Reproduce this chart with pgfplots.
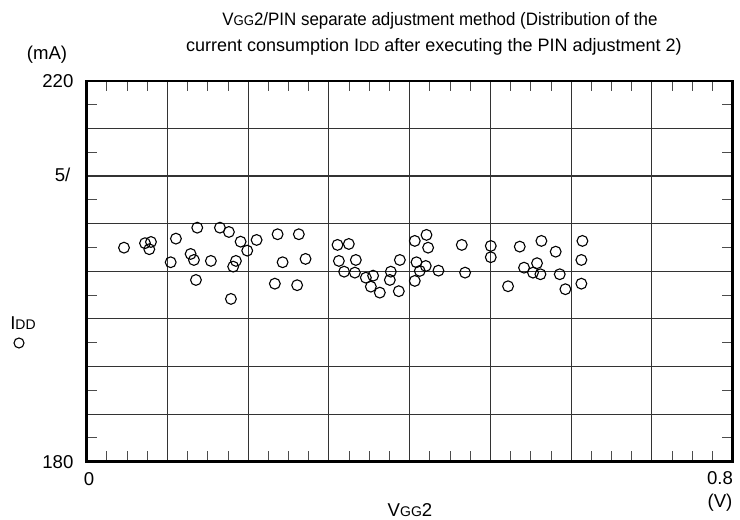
\documentclass[border=0pt]{standalone}
\usepackage{graphicx}
\usepackage{pgfplots}
\pgfplotsset{compat=1.18}
\usepackage{fontspec}
\setmainfont{Liberation Sans}
\newcommand{\sm}[1]{{\fontsize{7}{8}\selectfont #1}}
\begin{document}
\fontsize{9.3}{11}\selectfont
\begin{tikzpicture}
\path[use as bounding box] (-43.35pt,-29.15pt) rectangle (326.65pt,230.85pt);
\begin{axis}[
  at={(0pt,0pt)}, anchor=south west,
  scale only axis, width=323pt, height=190.5pt,
  xmin=0, xmax=0.8, ymin=180, ymax=220,
  xtick={0,0.1,0.2,0.3,0.4,0.5,0.6,0.7,0.8},
  ytick={180,185,190,195,200,205,210,215,220},
  xticklabels={}, yticklabels={},
  minor x tick num=3, minor y tick num=1,
  tick align=inside,
  major tick length=0pt, minor tick length=5.3pt,
  grid=major,
  major grid style={line width=0.55pt, black!80},
  axis line style={line width=1.2pt},
  minor tick style={line width=0.5pt, black!70},
  clip=false,
]
\addplot[only marks, mark=o, mark size=2.7pt, mark options={line width=0.55pt, black}] coordinates {
(0.0462,202.47) (0.0722,202.94) (0.0796,203.07) (0.0775,202.31)
(0.1105,203.42) (0.1369,204.57) (0.1650,204.57) (0.1761,204.12)
(0.1287,201.81) (0.1328,201.18) (0.1040,200.94) (0.1538,201.08)
(0.1353,199.08) (0.1786,197.09) (0.1848,201.08) (0.1814,200.48)
(0.1906,203.10) (0.1988,202.16) (0.2104,203.28) (0.2364,203.88)
(0.2627,203.88) (0.2426,200.94) (0.2710,201.29) (0.2330,198.69)
(0.2606,198.53) (0.3106,202.76) (0.3246,202.86) (0.3123,201.08)
(0.3188,199.95) (0.3333,201.18) (0.3321,199.85) (0.3457,199.32)
(0.3547,199.53) (0.3519,198.38) (0.3630,197.75) (0.3754,199.08)
(0.3766,199.95) (0.3878,201.18) (0.3865,197.90) (0.4063,203.18)
(0.4208,203.81) (0.4228,202.47) (0.4084,200.94) (0.4199,200.55)
(0.4125,200.03) (0.4063,198.98) (0.4356,200.06) (0.4645,202.76)
(0.4686,199.85) (0.5004,202.65) (0.5004,201.47) (0.5363,202.58)
(0.5631,203.18) (0.5808,202.05) (0.5577,200.84) (0.5416,200.37)
(0.5527,199.85) (0.5619,199.68) (0.5858,199.68) (0.5218,198.42)
(0.5928,198.11) (0.6139,203.18) (0.6126,201.18) (0.6126,198.69)
};
\end{axis}
\node[anchor=center,font=\fontsize{9}{11}\selectfont] at (176.6pt,220.5pt) {\scalebox{0.94}[1]{V\sm{GG}2/PIN separate adjustment method (Distribution of the}};
\node[anchor=center,font=\fontsize{9}{11}\selectfont] at (173.6pt,207.5pt) {current consumption I\sm{DD} after executing the PIN adjustment 2)};
\node[anchor=center] at (-19.85pt,203.35pt) {(mA)};
\node[anchor=east] at (-3.35pt,190.45pt) {220};
\node[anchor=east] at (-4.85pt,143.35pt) {5/};
\node[anchor=east] at (-3.35pt,-0.15pt) {180};
\node[anchor=center] at (1.15pt,-8.65pt) {0};
\node[anchor=center] at (316.65pt,-8.15pt) {0.8};
\node[anchor=center] at (316.65pt,-20.65pt) {(V)};
\node[anchor=center] at (161.65pt,-24.15pt) {V\sm{GG}2};
\node[anchor=center] at (-31.85pt,69.35pt) {I\sm{DD}};
\draw[line width=0.55pt] (-33.85pt,59.35pt) circle (2.5pt);
\end{tikzpicture}
\end{document}
